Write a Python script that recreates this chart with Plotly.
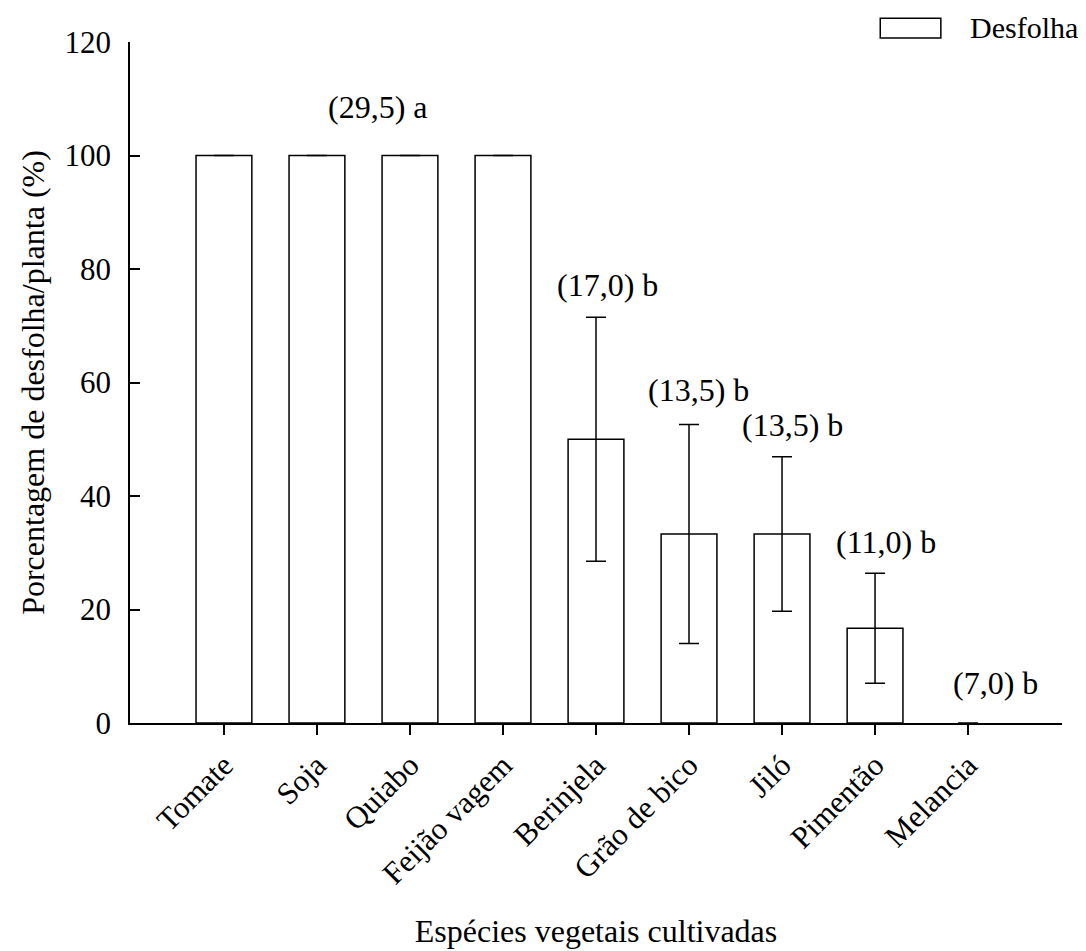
import plotly.graph_objects as go

categories = ["Tomate", "Soja", "Quiabo", "Feijão vagem", "Berinjela",
              "Grão de bico", "Jiló", "Pimentão", "Melancia"]
values = [100, 100, 100, 100, 50, 33.3, 33.3, 16.7, 0]
errors = [None, None, None, None, 21.5, 19.3, 13.6, 9.7, None]

annot_texts = ["(29,5) a", "(17,0) b", "(13,5) b", "(13,5) b", "(11,0) b", "(7,0) b"]
annot_x = [1.66, 4.12, 5.1, 6.11, 7.12, 8.3]
annot_y = [108.5, 77.2, 58.7, 52.5, 31.9, 7.0]

yticks = [0, 20, 40, 60, 80, 100, 120]

FONT = "'Times New Roman', 'Liberation Serif', 'DejaVu Serif', serif"

fig = go.Figure()
fig.add_trace(go.Bar(
    x=list(range(len(categories))),
    y=values,
    width=0.6,
    marker=dict(color="white",
                line=dict(color="black", width=[1.5 if v > 0 else 0 for v in values])),
    error_y=dict(type="data", array=[e if e is not None else 0 for e in errors],
                 visible=True, color="black", thickness=1.5, width=10),
    name="Desfolha",
    showlegend=False,
))

for t, x, y in zip(annot_texts, annot_x, annot_y):
    fig.add_annotation(x=x, y=y, text=t, showarrow=False, xref="x", yref="y",
                       xanchor="center", yanchor="middle",
                       font=dict(family=FONT, size=32, color="black"))

# legend drawn manually
fig.add_shape(type="rect", xref="paper", yref="paper", x0=0.805, x1=0.870,
              y0=1.006, y1=1.035, line=dict(color="black", width=1.5),
              fillcolor="white")
fig.add_annotation(xref="paper", yref="paper", x=0.899, y=1.0206, text="Desfolha",
                   showarrow=False, xanchor="left", yanchor="middle",
                   font=dict(family=FONT, size=30, color="black"))

fig.update_layout(
    width=1086, height=951,
    margin=dict(l=122, r=32, t=34, b=236),
    plot_bgcolor="white", paper_bgcolor="white",
    font=dict(family=FONT, size=31, color="black"),
    bargap=0.4,
)
fig.update_xaxes(
    range=[-1.01, 9.01], automargin=False,
    tickmode="array", tickvals=list(range(len(categories))), ticktext=categories,
    tickangle=-45, ticks="outside", ticklen=10, tickwidth=1.5, tickcolor="black",
    showline=True, linecolor="black", linewidth=1.5, showgrid=False, zeroline=False,
    tickfont=dict(family=FONT, size=31),
    title=dict(text="Espécies vegetais cultivadas", font=dict(family=FONT, size=32), standoff=30),
)
fig.update_yaxes(
    range=[0, 120], tickvals=yticks, automargin=False,
    ticks="inside", ticklen=10, tickwidth=1.5, tickcolor="black",
    showline=True, linecolor="black", linewidth=1.5, showgrid=False, zeroline=False,
    tickfont=dict(family=FONT, size=31), ticklabelstandoff=11,
    title=dict(text="Porcentagem de desfolha/planta (%)", font=dict(family=FONT, size=32), standoff=10),
)

fig.write_html("out.html")
